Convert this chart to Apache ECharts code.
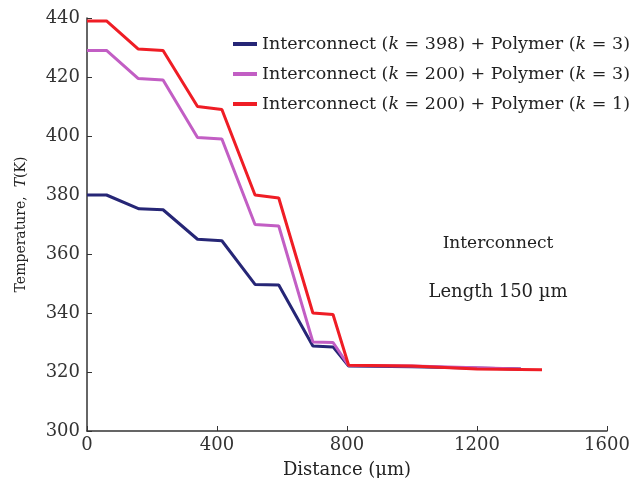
<!DOCTYPE html>
<html>
<head>
<meta charset="utf-8">
<script src="https://cdn.jsdelivr.net/npm/echarts@6/dist/echarts.min.js"></script>
<style>
  html, body { margin: 0; padding: 0; background: #fff; }
  #chart { width: 633px; height: 478px; }
</style>
</head>
<body>
<div id="chart"></div>
<script>
// series data: [distance (um), temperature (K)]
var names = [
  'Interconnect (k = 398) + Polymer (k = 3)',
  'Interconnect (k = 200) + Polymer (k = 3)',
  'Interconnect (k = 200) + Polymer (k = 1)'
];
var blueData = [[0, 380], [60, 380], [160, 375.3], [234, 375], [340, 365], [415, 364.5],
  [517, 349.7], [590, 349.5], [695, 328.8], [757, 328.5], [805, 322], [1000, 321.8], [1335, 321]];
var pinkData = [[0, 429], [60, 429], [157, 419.5], [234, 419], [340, 399.5], [415, 399],
  [517, 370], [590, 369.5], [695, 330.2], [757, 330], [805, 322.2], [1000, 322], [1335, 321]];
var redData = [[0, 439], [60, 439], [157, 429.5], [234, 429], [340, 410], [415, 409],
  [517, 380], [590, 379], [695, 340], [757, 339.5], [805, 322.3], [1000, 322], [1200, 321], [1400, 320.8]];
var colors = ['#262676', '#c25ec4', '#ef1d25'];
var seriesData = [blueData, pinkData, redData];

var font = "'DejaVu Serif', 'Liberation Serif', serif";
var chart = echarts.init(document.getElementById('chart'));

var series = seriesData.map(function (d, i) {
  return {
    name: names[i],
    type: 'line',
    data: d,
    symbol: 'none',
    lineStyle: { color: colors[i], width: 3 },
    itemStyle: { color: colors[i] },
    z: 2 + i
  };
});

var option = {
  animation: false,
  backgroundColor: '#fff',
  grid: { left: 87, top: 18, right: 26, bottom: 47, containLabel: false, outerBoundsMode: 'none' },
  legend: {
    orient: 'vertical',
    left: 228,
    top: 30,
    itemGap: 12,
    itemWidth: 24,
    itemHeight: 4,
    icon: 'rect',
    data: names,
    formatter: function (n) {
      return n.replace(/k =/g, '{i|k} =');
    },
    textStyle: {
      fontFamily: font, fontSize: 17.5, color: '#222',
      rich: { i: { fontFamily: font, fontSize: 17.5, fontStyle: 'italic', color: '#222' } }
    }
  },
  xAxis: {
    type: 'value',
    min: 0, max: 1600, interval: 400,
    name: 'Distance (\u00b5m)',
    nameLocation: 'middle',
    nameGap: 30,
    nameTextStyle: { fontFamily: font, fontSize: 18, color: '#222' },
    axisLine: { lineStyle: { color: '#333', width: 1.5 } },
    axisTick: { inside: true, length: 5, lineStyle: { color: '#333' } },
    axisLabel: {
      fontFamily: font, fontSize: 18, color: '#333', margin: 5,
      formatter: function (v) { return String(v); }
    },
    splitLine: { show: false }
  },
  yAxis: {
    type: 'value',
    min: 300, max: 440, interval: 20,
    name: 'Temperature,  {i|T}(K)',
    nameLocation: 'middle',
    nameGap: 59,
    nameTextStyle: {
      fontFamily: font, fontSize: 14, color: '#222',
      rich: { i: { fontFamily: font, fontSize: 14, fontStyle: 'italic', color: '#222' } }
    },
    axisLine: { show: true, lineStyle: { color: '#333', width: 1.5 } },
    axisTick: { show: true, inside: true, length: 5, lineStyle: { color: '#333' } },
    axisLabel: { fontFamily: font, fontSize: 18, color: '#333', margin: 7 },
    splitLine: { show: false }
  },
  graphic: [
    { type: 'text', x: 498, y: 244,
      style: { text: 'Interconnect', font: '17px ' + font, fill: '#222',
        align: 'center', verticalAlign: 'middle' } },
    { type: 'text', x: 498, y: 292,
      style: { text: 'Length 150 \u00b5m', font: '18px ' + font, fill: '#222',
        align: 'center', verticalAlign: 'middle' } }
  ],
  series: series
};

chart.setOption(option);
</script>
</body>
</html>
